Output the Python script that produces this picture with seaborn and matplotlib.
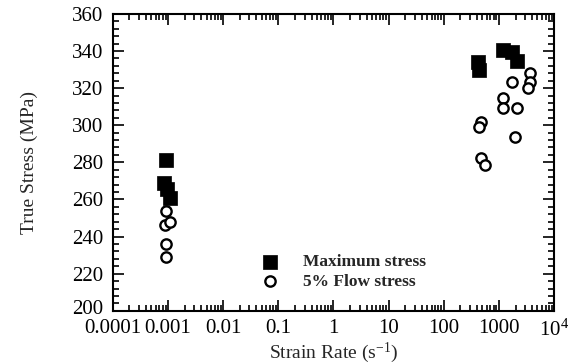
import numpy as np
import pandas as pd
import matplotlib
matplotlib.use("Agg")
import matplotlib.pyplot as plt
import matplotlib.ticker as mticker
import matplotlib.transforms as mtransforms
import seaborn as sns

# --- data ---
max_rate = [0.0009, 0.00085, 0.00095, 0.00108,
            410, 440, 1200, 1740, 2130]
max_stress = [281.5, 269, 265.7, 260.9,
              334, 330, 340.6, 339.5, 334.7]

flow_rate = [0.00091, 0.00088, 0.00108, 0.00091, 0.00091,
             1710, 3700, 3700, 3400, 1200, 1200, 2130,
             470, 430, 1990, 470, 560]
flow_stress = [253.9, 246.3, 248, 236.1, 229.1,
               323.5, 328, 323.5, 320, 314.6, 309.2, 309.2,
               302, 299, 293.6, 282.3, 278.6]

x_ticks = [1e-4, 1e-3, 1e-2, 1e-1, 1, 10, 100, 1000, 1e4]
x_labels = ["0.0001", "0.001", "0.01", "0.1", "1", "10", "100", "1000", "10$^{4}$"]
y_ticks = [200, 220, 240, 260, 280, 300, 320, 340, 360]

sns.set_style("ticks")
plt.rcParams["font.family"] = ["Liberation Serif", "DejaVu Serif"]
plt.rcParams["mathtext.fontset"] = "custom"
plt.rcParams["mathtext.rm"] = "Liberation Serif"
plt.rcParams["mathtext.it"] = "Liberation Serif:italic"

fig, ax = plt.subplots(figsize=(5.73, 3.64), dpi=100)
fig.subplots_adjust(left=0.197, right=0.967, bottom=0.146, top=0.962)

df_max = pd.DataFrame({"rate": max_rate, "stress": max_stress})
df_flow = pd.DataFrame({"rate": flow_rate, "stress": flow_stress})

sns.scatterplot(data=df_max, x="rate", y="stress", ax=ax, marker="s", s=95,
                color="black", edgecolor="black", linewidth=0.5,
                label="Maximum stress", zorder=3)
sns.scatterplot(data=df_flow, x="rate", y="stress", ax=ax, marker="o", s=55,
                facecolor="white", edgecolor="black", linewidth=1.7,
                label="5% Flow stress", zorder=2)

ax.set_xscale("log")
ax.set_xlim(1e-4, 1e4)
ax.set_ylim(200, 360)
ax.set_xticks(x_ticks)
ax.xaxis.set_major_formatter(mticker.FixedFormatter(x_labels))
ax.xaxis.set_minor_locator(mticker.LogLocator(base=10, subs=np.arange(2, 10), numticks=100))
ax.xaxis.set_minor_formatter(mticker.NullFormatter())
ax.set_yticks(y_ticks)
ax.yaxis.set_minor_locator(mticker.MultipleLocator(4))

ax.tick_params(which="both", direction="in", top=True, right=True,
               labelsize=15, colors="black", width=1.2)
ax.tick_params(which="major", length=8)
ax.tick_params(which="minor", length=4)
ax.tick_params(axis="y", which="major", pad=7)
ax.tick_params(axis="x", which="major", pad=6)
for sp in ax.spines.values():
    sp.set_visible(True)
    sp.set_linewidth(1.5)
    sp.set_color("black")

# nudge the bottom y label ("200") up slightly so it clears "0.0001"
first_tick = ax.yaxis.get_major_ticks()[0]
lbl = first_tick.label1
lbl.set_transform(lbl.get_transform() +
                  mtransforms.ScaledTranslation(0, 4 / 100, fig.dpi_scale_trans))

ax.set_xlabel("Strain Rate (s$^{-1}$)", fontsize=14, labelpad=0)
ax.set_ylabel("True Stress (MPa)", fontsize=14, labelpad=24)

leg = ax.legend(loc="center left", bbox_to_anchor=(0.308, 0.131), frameon=False,
                handlelength=2.0, handletextpad=0.9, labelspacing=0.2, borderpad=0.2,
                borderaxespad=0,
                prop={"family": "Liberation Serif", "weight": "bold", "size": 12.5})

fig.savefig("out.png", dpi=100)
